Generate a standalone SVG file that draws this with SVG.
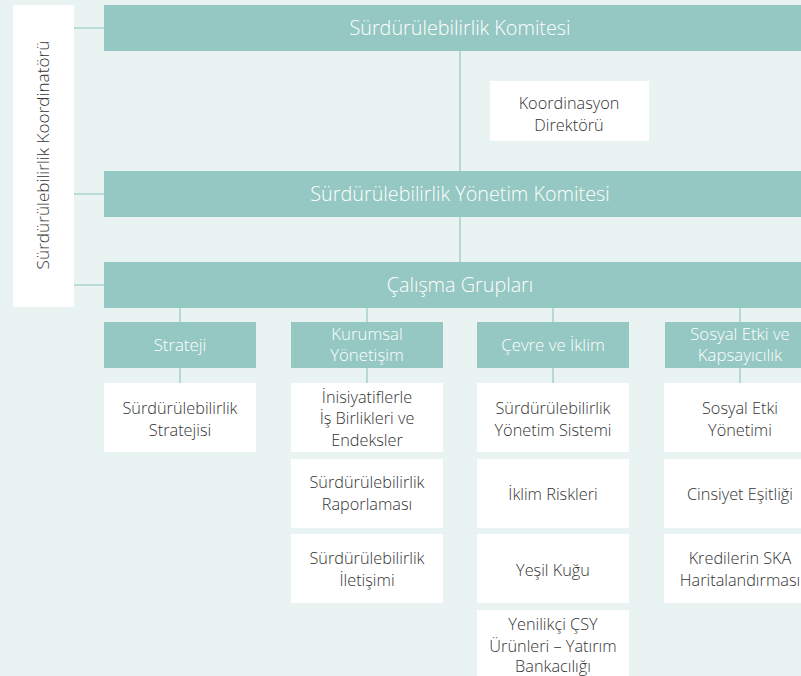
<svg xmlns="http://www.w3.org/2000/svg" width="801" height="676" viewBox="0 0 801 676">
<style>
.bar{fill:#95c8c2}
.box{fill:#ffffff}
.bt{font-family:"Open Sans","Liberation Sans",sans-serif;font-weight:300;fill:#ffffff;text-anchor:middle}
.big{font-size:19.8px}
.hd{font-size:16.8px}
.wt{font-family:"Open Sans","Liberation Sans",sans-serif;font-weight:300;font-size:16.3px;fill:#333333;text-anchor:middle}
.ln{stroke:#a8d3cd;stroke-width:1.6;fill:none}
</style>
<rect width="801" height="676" fill="#e9f3f1"/>
<g id="connectors">
<path class="ln" d="M74 28H104M74 194H104M74 285H104"/>
<path class="ln" d="M460 51V171M460 217V262"/>
<path class="ln" d="M180 308V322M367 308V322M553 308V322M740 308V322"/>
<path class="ln" d="M180 368V383M367 368V383M553 368V383M740 368V383"/>
</g>
<g id="koordinator">
<rect class="box" x="13" y="5" width="61" height="302"/>
<text class="wt" transform="translate(49 155) rotate(-90)" style="font-size:17.2px">Sürdürülebilirlik Koordinatörü</text>
</g>
<g id="komite">
<rect class="bar" x="104" y="5" width="697" height="46"/>
<text class="bt big" x="460" y="35">Sürdürülebilirlik Komitesi</text>
</g>
<g id="direktor">
<rect class="box" x="490" y="81" width="159" height="60"/>
<text class="wt" x="569" y="109">Koordinasyon</text>
<text class="wt" x="569" y="131">Direktörü</text>
</g>
<g id="yonetim-komitesi">
<rect class="bar" x="104" y="171" width="697" height="46"/>
<text class="bt big" x="460" y="201">Sürdürülebilirlik Yönetim Komitesi</text>
</g>
<g id="calisma-gruplari">
<rect class="bar" x="104" y="262" width="697" height="46"/>
<text class="bt big" x="460" y="292">Çalışma Grupları</text>
</g>
<g id="strateji">
<rect class="bar" x="104" y="322" width="152" height="46"/>
<text class="bt hd" x="180" y="351">Strateji</text>
</g>
<g id="kurumsal">
<rect class="bar" x="291" y="322" width="152" height="46"/>
<text class="bt hd" x="367" y="340">Kurumsal</text>
<text class="bt hd" x="367" y="361">Yönetişim</text>
</g>
<g id="cevre">
<rect class="bar" x="477" y="322" width="152" height="46"/>
<text class="bt hd" x="553" y="351">Çevre ve İklim</text>
</g>
<g id="sosyal">
<rect class="bar" x="665" y="322" width="152" height="46"/>
<text class="bt hd" x="740" y="340">Sosyal Etki ve</text>
<text class="bt hd" x="740" y="361">Kapsayıcılık</text>
</g>
<g id="s-strateji">
<rect class="box" x="104" y="383" width="152" height="69"/>
<text class="wt" x="180" y="414">Sürdürülebilirlik</text>
<text class="wt" x="180" y="436">Stratejisi</text>
</g>
<g id="k-inisiyatif">
<rect class="box" x="291" y="383" width="152" height="69"/>
<text class="wt" x="367" y="403">İnisiyatiflerle</text>
<text class="wt" x="367" y="424">İş Birlikleri ve</text>
<text class="wt" x="367" y="446">Endeksler</text>
</g>
<g id="k-raporlama">
<rect class="box" x="291" y="459" width="152" height="69"/>
<text class="wt" x="367" y="488">Sürdürülebilirlik</text>
<text class="wt" x="367" y="510">Raporlaması</text>
</g>
<g id="k-iletisim">
<rect class="box" x="291" y="534" width="152" height="69"/>
<text class="wt" x="367" y="564">Sürdürülebilirlik</text>
<text class="wt" x="367" y="586">İletişimi</text>
</g>
<g id="c-sistem">
<rect class="box" x="477" y="383" width="152" height="69"/>
<text class="wt" x="553" y="414">Sürdürülebilirlik</text>
<text class="wt" x="553" y="436">Yönetim Sistemi</text>
</g>
<g id="c-iklim">
<rect class="box" x="477" y="459" width="152" height="69"/>
<text class="wt" x="553" y="500">İklim Riskleri</text>
</g>
<g id="c-kugu">
<rect class="box" x="477" y="534" width="152" height="69"/>
<text class="wt" x="553" y="576">Yeşil Kuğu</text>
</g>
<g id="c-yenilikci">
<rect class="box" x="477" y="610" width="152" height="70"/>
<text class="wt" x="553" y="630">Yenilikçi ÇSY</text>
<text class="wt" x="553" y="652">Ürünleri – Yatırım</text>
<text class="wt" x="553" y="672">Bankacılığı</text>
</g>
<g id="so-etki">
<rect class="box" x="664" y="383" width="152" height="69"/>
<text class="wt" x="740" y="414">Sosyal Etki</text>
<text class="wt" x="740" y="436">Yönetimi</text>
</g>
<g id="so-cinsiyet">
<rect class="box" x="664" y="459" width="152" height="69"/>
<text class="wt" x="740" y="500">Cinsiyet Eşitliği</text>
</g>
<g id="so-ska">
<rect class="box" x="664" y="534" width="152" height="69"/>
<text class="wt" x="740" y="564">Kredilerin SKA</text>
<text class="wt" x="740" y="586">Haritalandırması</text>
</g>
</svg>
